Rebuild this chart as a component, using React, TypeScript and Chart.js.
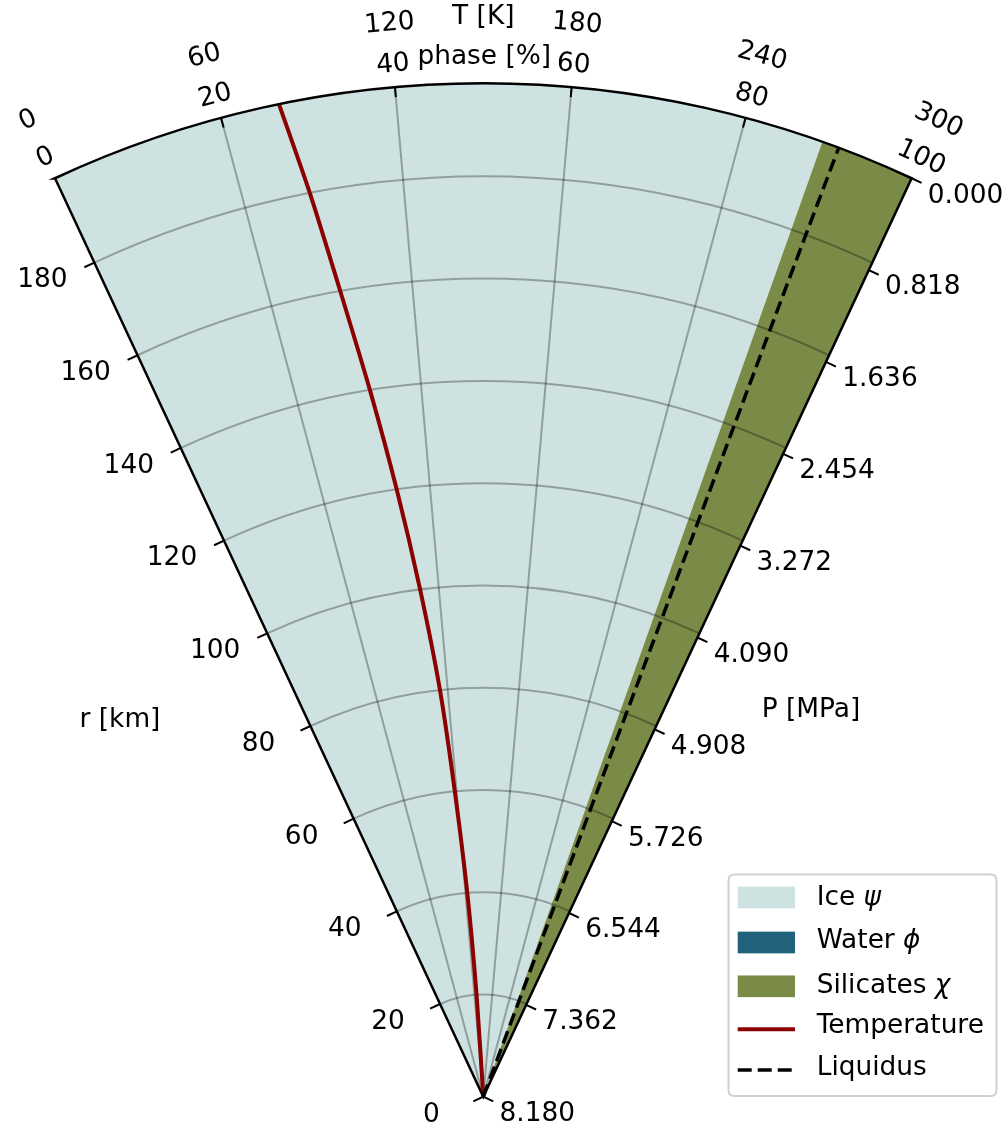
import React, { useEffect, useRef } from "react";
import { Chart, registerables } from "chart.js";

Chart.register(...registerables);

// ---------------- data ----------------
const radiusKm = [0, 20, 40, 60, 80, 100, 120, 140, 160, 180, 198.2];
const temperatureK = [130.5, 127.3, 123.0, 118.0, 113.5, 107.4, 101.3, 95.3, 89.6, 84.8, 80.2];
const liquidusK = [272.6, 272.6, 272.7, 272.7, 272.8, 272.9, 272.9, 273.0, 273.0, 273.1, 273.2];
const icePhasePct = [89.1, 89.1, 89.1, 89.1, 89.1, 89.1, 89.1, 89.1, 89.1, 89.1, 89.1];
const waterPhasePct = [0, 0, 0, 0, 0, 0, 0, 0, 0, 0, 0];
const silicatePhasePct = [10.9, 10.9, 10.9, 10.9, 10.9, 10.9, 10.9, 10.9, 10.9, 10.9, 10.9];

const rTicksKm = [0, 20, 40, 60, 80, 100, 120, 140, 160, 180];
const gridRadiiKm = [20, 40, 60, 80, 100, 120, 140, 160, 180];
const pressureTicksMPa = [0, 0.818, 1.636, 2.454, 3.272, 4.09, 4.908, 5.726, 6.544, 7.362, 8.18];
const phaseTicksPct = [0, 20, 40, 60, 80, 100];
const phaseGridPct = [20, 40, 60, 80];
const tempTicksK = [0, 60, 120, 180, 240, 300];

const legendLabels = ["Ice ", "Water ", "Silicates ", "Temperature", "Liquidus"];
const legendSymbols = ["ψ", "ϕ", "χ", "", ""];

const R_MAX = 198.2;
const P_MAX = 8.18;
const T_MAX = 300;
const HALF_SPAN = 25; // degrees each side of vertical

// ---------------- layout / style ----------------
const W = 1007;
const H = 1128;
const APEX_X = 483.3;
const APEX_Y = 1096.7;
const PX_PER_KM = 5.113;

const ICE = "#cfe2e2";
const WATER = "#21637d";
const SILICATE = "#7a8b48";
const TEMP = "#8b0000";
const FONT = '26.4px "DejaVu Sans"';
const FONT_IT = 'italic 26.4px "DejaVu Sans"';

const D2R = Math.PI / 180;
const phaseToTheta = (p: number) => (-HALF_SPAN + (p / 100) * 2 * HALF_SPAN) * D2R;
const tempToTheta = (t: number) => (-HALF_SPAN + (t / T_MAX) * 2 * HALF_SPAN) * D2R;
const pressureToRadius = (p: number) => R_MAX * (1 - p / P_MAX);
const toXY = (r: number, th: number) => ({ x: r * Math.sin(th), y: r * Math.cos(th) });

const cum1 = icePhasePct.slice();
const cum2 = icePhasePct.map((v, i) => v + waterPhasePct[i]);
const cum3 = cum2.map((v, i) => v + silicatePhasePct[i]);
const cum0 = icePhasePct.map(() => 0);

const polarPlugin = {
  id: "polarFrame",
  beforeDatasetsDraw(chart: any) {
    const { ctx, scales } = chart;
    const xs = scales.x;
    const ys = scales.y;
    const cx = xs.getPixelForValue(0);
    const cy = ys.getPixelForValue(0);
    const rad = (r: number) => xs.getPixelForValue(r) - cx;
    const pt = (r: number, th: number) => [
      xs.getPixelForValue(r * Math.sin(th)),
      ys.getPixelForValue(r * Math.cos(th)),
    ];
    const ang = (th: number) => -Math.PI / 2 + th;

    const layer = (lo: number[], hi: number[], color: string) => {
      let any = false;
      for (let i = 0; i < lo.length; i++) if (hi[i] - lo[i] > 1e-9) any = true;
      if (!any) return;
      ctx.save();
      ctx.beginPath();
      for (let i = 0; i < radiusKm.length; i++) {
        const [px, py] = pt(radiusKm[i], phaseToTheta(lo[i]));
        if (i === 0) ctx.moveTo(px, py);
        else ctx.lineTo(px, py);
      }
      const n = radiusKm.length - 1;
      ctx.arc(cx, cy, rad(radiusKm[n]), ang(phaseToTheta(lo[n])), ang(phaseToTheta(hi[n])), false);
      for (let i = n; i >= 0; i--) {
        const [px, py] = pt(radiusKm[i], phaseToTheta(hi[i]));
        ctx.lineTo(px, py);
      }
      ctx.closePath();
      ctx.fillStyle = color;
      ctx.fill();
      ctx.restore();
    };
    layer(cum0, cum1, ICE);
    layer(cum1, cum2, WATER);
    layer(cum2, cum3, SILICATE);

    // grid
    ctx.save();
    ctx.strokeStyle = "rgba(0,0,0,0.3)";
    ctx.lineWidth = 2;
    const thL = phaseToTheta(0);
    const thR = phaseToTheta(100);
    for (const r of gridRadiiKm) {
      ctx.beginPath();
      ctx.arc(cx, cy, rad(r), ang(thL), ang(thR), false);
      ctx.stroke();
    }
    for (const p of phaseGridPct) {
      const [px, py] = pt(R_MAX, phaseToTheta(p));
      ctx.beginPath();
      ctx.moveTo(cx, cy);
      ctx.lineTo(px, py);
      ctx.stroke();
    }
    ctx.restore();
  },
  afterDatasetsDraw(chart: any) {
    const { ctx, scales } = chart;
    const xs = scales.x;
    const ys = scales.y;
    const cx = xs.getPixelForValue(0);
    const cy = ys.getPixelForValue(0);
    const rad = (r: number) => xs.getPixelForValue(r) - cx;
    const pt = (r: number, th: number) => [
      xs.getPixelForValue(r * Math.sin(th)),
      ys.getPixelForValue(r * Math.cos(th)),
    ];
    const ang = (th: number) => -Math.PI / 2 + th;
    const thL = phaseToTheta(0);
    const thR = phaseToTheta(100);

    // frame
    ctx.save();
    ctx.strokeStyle = "#000";
    ctx.lineWidth = 2.5;
    ctx.lineJoin = "miter";
    ctx.beginPath();
    ctx.moveTo(cx, cy);
    const [lx, ly] = pt(R_MAX, thL);
    ctx.lineTo(lx, ly);
    ctx.arc(cx, cy, rad(R_MAX), ang(thL), ang(thR), false);
    ctx.closePath();
    ctx.stroke();

    // ticks
    ctx.lineWidth = 2;
    const TL = 11;
    const nL = [-Math.cos(HALF_SPAN * D2R), Math.sin(HALF_SPAN * D2R)];
    const nR = [Math.cos(HALF_SPAN * D2R), Math.sin(HALF_SPAN * D2R)];
    ctx.font = FONT;
    ctx.fillStyle = "#000";
    ctx.textAlign = "center";
    ctx.textBaseline = "middle";
    for (const r of rTicksKm) {
      const [bx, by] = pt(r, thL);
      ctx.beginPath();
      ctx.moveTo(bx, by);
      ctx.lineTo(bx + nL[0] * TL, by + nL[1] * TL);
      ctx.stroke();
      ctx.fillText(String(r), bx - 52, by + 18);
    }
    for (const p of pressureTicksMPa) {
      const [bx, by] = pt(pressureToRadius(p), thR);
      ctx.beginPath();
      ctx.moveTo(bx, by);
      ctx.lineTo(bx + nR[0] * TL, by + nR[1] * TL);
      ctx.stroke();
      ctx.fillText(p.toFixed(3), bx + 54, by + 17.5);
    }
    // top ticks (inward)
    for (const p of phaseGridPct) {
      const th = phaseToTheta(p);
      const [bx, by] = pt(R_MAX, th);
      ctx.beginPath();
      ctx.moveTo(bx, by);
      ctx.lineTo(bx - Math.sin(th) * 10, by + Math.cos(th) * 10);
      ctx.stroke();
    }
    // top labels
    const R_PHASE = 1036;
    const R_TEMP = 1077;
    for (const p of phaseTicksPct) {
      const th = phaseToTheta(p);
      ctx.save();
      ctx.translate(cx + R_PHASE * Math.sin(th), cy - R_PHASE * Math.cos(th));
      ctx.rotate(th);
      ctx.fillText(String(p), 0, 0);
      ctx.restore();
    }
    for (const t of tempTicksK) {
      const th = tempToTheta(t);
      ctx.save();
      ctx.translate(cx + R_TEMP * Math.sin(th), cy - R_TEMP * Math.cos(th));
      ctx.rotate(th);
      ctx.fillText(String(t), 0, 0);
      ctx.restore();
    }
    // axis labels
    ctx.fillText("phase [%]", cx + 1, cy - 1040);
    ctx.fillText("T [K]", cx, cy - 1080);
    ctx.fillText("r [km]", 120, 720);
    ctx.fillText("P [MPa]", 811, 710);
    ctx.restore();

    // legend
    ctx.save();
    const bx0 = 728.5, by0 = 874.5, bw = 268, bh = 221.5, rr = 6;
    ctx.beginPath();
    ctx.moveTo(bx0 + rr, by0);
    ctx.lineTo(bx0 + bw - rr, by0);
    ctx.quadraticCurveTo(bx0 + bw, by0, bx0 + bw, by0 + rr);
    ctx.lineTo(bx0 + bw, by0 + bh - rr);
    ctx.quadraticCurveTo(bx0 + bw, by0 + bh, bx0 + bw - rr, by0 + bh);
    ctx.lineTo(bx0 + rr, by0 + bh);
    ctx.quadraticCurveTo(bx0, by0 + bh, bx0, by0 + bh - rr);
    ctx.lineTo(bx0, by0 + rr);
    ctx.quadraticCurveTo(bx0, by0, bx0 + rr, by0);
    ctx.closePath();
    ctx.fillStyle = "rgba(255,255,255,0.85)";
    ctx.fill();
    ctx.strokeStyle = "#d0d0d0";
    ctx.lineWidth = 2;
    ctx.stroke();

    const handleY = [897.5, 942.5, 986.3, 1029.3, 1070];
    const textY = [898, 941.5, 986, 1026.5, 1068];
    const hx = 737.7, hw = 57.3, hh = 21.7, tx = 816.7;
    const fills = [ICE, WATER, SILICATE];
    for (let i = 0; i < 3; i++) {
      ctx.fillStyle = fills[i];
      ctx.fillRect(hx, handleY[i] - hh / 2, hw, hh);
    }
    ctx.strokeStyle = TEMP;
    ctx.lineWidth = 4;
    ctx.beginPath();
    ctx.moveTo(hx, handleY[3]);
    ctx.lineTo(hx + hw, handleY[3]);
    ctx.stroke();
    ctx.strokeStyle = "#000";
    ctx.lineWidth = 3.5;
    ctx.setLineDash([14, 6]);
    ctx.beginPath();
    ctx.moveTo(hx, handleY[4]);
    ctx.lineTo(hx + hw, handleY[4]);
    ctx.stroke();
    ctx.setLineDash([]);

    ctx.fillStyle = "#000";
    ctx.textAlign = "left";
    ctx.textBaseline = "middle";
    legendLabels.forEach((lab, i) => {
      ctx.font = FONT;
      ctx.fillText(lab, tx, textY[i]);
      if (legendSymbols[i]) {
        const w = ctx.measureText(lab).width;
        ctx.font = FONT_IT;
        ctx.fillText(legendSymbols[i], tx + w, textY[i]);
      }
    });
    ctx.restore();
  },
};

export default function App() {
  const ref = useRef<HTMLCanvasElement>(null);
  useEffect(() => {
    const canvas = ref.current;
    if (!canvas) return;
    const xMin = -APEX_X / PX_PER_KM;
    const xMax = (W - APEX_X) / PX_PER_KM;
    const yMin = -(H - APEX_Y) / PX_PER_KM;
    const yMax = APEX_Y / PX_PER_KM;
    const chart = new Chart(canvas, {
      type: "scatter",
      data: {
        datasets: [
          {
            label: "Liquidus",
            data: radiusKm.map((r, i) => toXY(r, tempToTheta(liquidusK[i]))),
            showLine: true,
            borderColor: "#000",
            borderWidth: 3.5,
            borderDash: [13, 6],
            pointRadius: 0,
            tension: 0,
          } as any,
          {
            label: "Temperature",
            data: radiusKm.map((r, i) => toXY(r, tempToTheta(temperatureK[i]))),
            showLine: true,
            borderColor: TEMP,
            borderWidth: 4,
            pointRadius: 0,
            tension: 0.25,
          } as any,
        ],
      },
      options: {
        responsive: false,
        maintainAspectRatio: false,
        animation: false,
        events: [],
        layout: { padding: 0 },
        plugins: { legend: { display: false }, tooltip: { enabled: false }, title: { display: false } },
        scales: {
          x: { type: "linear", display: false, min: xMin, max: xMax },
          y: { type: "linear", display: false, min: yMin, max: yMax },
        },
      },
      plugins: [polarPlugin],
    });
    return () => chart.destroy();
  }, []);
  return (
    <div style={{ position: "absolute", left: 0, top: 0, width: W, height: H, background: "#fff" }}>
      <canvas ref={ref} width={W} height={H} style={{ display: "block" }} />
    </div>
  );
}
